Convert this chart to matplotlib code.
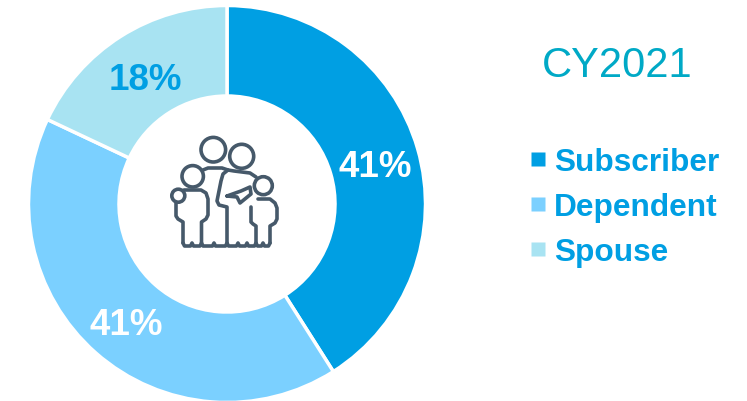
import matplotlib
matplotlib.use('Agg')
import matplotlib.pyplot as plt
from matplotlib.patches import Circle

plt.rcParams['font.family'] = ['Liberation Sans', 'DejaVu Sans']

W, H = 747, 402

categories = ['Subscriber', 'Dependent', 'Spouse']
shares = [41, 41, 18]
colors = ['#009FE3', '#7BD0FF', '#A8E3F2']
label_colors = ['white', 'white', '#009FE3']
period = 'CY2021'

ICON = '#46596A'
BLUE = '#009FE3'

# family pictogram outlines, in units of a 150x140 icon box
heads = [(63.3, 30.7, 12.3), (91.7, 37.3, 12), (42.7, 57.3, 10.7), (113.3, 66.7, 9), (28.3, 76.7, 6.5)]
strokes = [
    [(53, 51), (58, 49), (72, 49), (78, 51), (84, 52), (100, 54), (106, 58)],
    [(78, 51), (73, 55), (71, 62), (67, 82), (69, 86), (77, 88), (77, 124)],
    [(34, 71), (51, 71), (56, 74), (58, 80), (58, 96), (56, 100), (51.5, 103), (51.5, 124)],
    [(26, 84), (26, 97), (28, 100), (33, 103), (33, 124)],
    [(108, 80), (120, 80), (125, 84), (127, 89), (127, 100), (125, 104), (120, 107), (120, 124)],
    [(101, 88), (101, 103), (103, 105), (106, 107), (106, 124)],
    [(77, 77), (91, 72), (100, 68), (101, 75), (90, 84), (87, 78), (77, 77)],
]
# hem along the bottom of the family, scalloped between these points
hem_notches = [33, 42, 51.5, 64, 77, 88, 97, 106, 113, 120]


def to_fig(x, y):
    # icon box coordinates to figure pixels, y pointing up
    return 150 + x, H - (120 + y)


def hem_line(notches):
    pts = []
    for a, b in zip(notches[:-1], notches[1:]):
        pts += [(a, 124), (a + 1.5, 127), (b - 1.5, 127)]
    pts.append((notches[-1], 124))
    return pts


fig = plt.figure(figsize=(W / 100, H / 100), dpi=100)
ax = fig.add_axes([0, 0, 1, 1])

wedges, texts, pcts = ax.pie(
    shares,
    colors=colors,
    startangle=90,
    counterclock=False,
    center=(227, H - 205),
    radius=198.5,
    autopct='%.0f%%',
    pctdistance=0.775,
    wedgeprops={'width': 90.5, 'edgecolor': 'white', 'linewidth': 2.5},
    textprops={'fontsize': 26.5, 'fontweight': 'bold'},
    frame=True,
)
for pct, color in zip(pcts, label_colors):
    pct.set_color(color)
    # sit the percentages a little lower in the ring
    x, y = pct.get_position()
    pct.set_position((x + 1, y - 5.5))

ax.set_xlim(0, W)
ax.set_ylim(0, H)
ax.set_aspect('equal')
ax.axis('off')

for cx, cy, r in heads:
    px, py = to_fig(cx, cy)
    ax.add_patch(Circle((px, py), r, fill=False, edgecolor=ICON, linewidth=2.6, zorder=5))
for stroke in strokes + [hem_line(hem_notches)]:
    pts = [to_fig(x, y) for x, y in stroke]
    ax.plot([p[0] for p in pts], [p[1] for p in pts], color=ICON, linewidth=2.6,
            solid_joinstyle='round', solid_capstyle='round', zorder=5)

ax.text(617, H - 66, period, color='#00A9C6', fontsize=30, ha='center', va='center')

handles = [plt.Line2D([], [], linestyle='none', marker='s', markersize=9.4,
                      markerfacecolor=c, markeredgecolor='none') for c in colors]
legend = ax.legend(handles, categories, loc='upper left', bbox_to_anchor=(530.5 / W, 1 - 148 / H),
                   frameon=False, prop={'size': 22.8, 'weight': 'bold'}, labelcolor=BLUE,
                   handlelength=0.5, handletextpad=0.25, labelspacing=0.47,
                   borderpad=0, borderaxespad=0)

fig.savefig('out.png', dpi=100)
